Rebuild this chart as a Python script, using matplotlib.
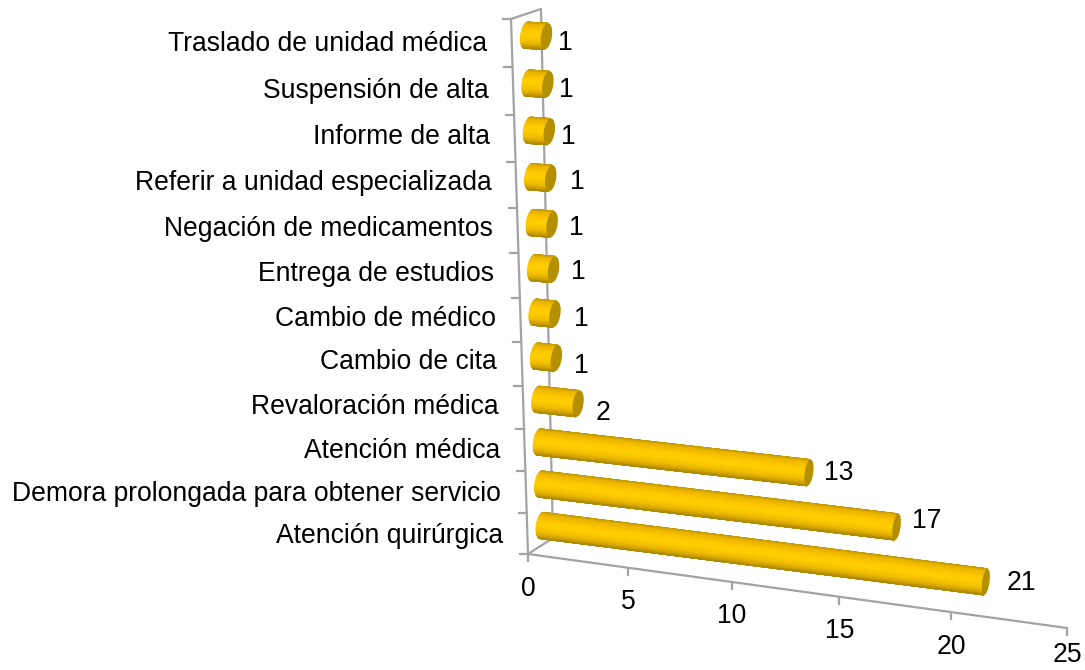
import numpy as np
from matplotlib import pyplot as plt
from matplotlib.colors import LinearSegmentedColormap

plt.rcParams['font.family'] = ['Liberation Sans', 'DejaVu Sans']

# bottom to top
categories = ['Atención quirúrgica', 'Demora prolongada para obtener servicio',
              'Atención médica', 'Revaloración médica', 'Cambio de cita',
              'Cambio de médico', 'Entrega de estudios', 'Negación de medicamentos',
              'Referir a unidad especializada', 'Informe de alta',
              'Suspensión de alta', 'Traslado de unidad médica']
values = [21, 17, 13, 2, 1, 1, 1, 1, 1, 1, 1, 1]
x_ticks = [0, 5, 10, 15, 20, 25]

# value label offsets from the bar end, the original chart is uneven here
label_dx = [36, 30, 30, 25, 25, 26, 25, 24, 27, 19, 18, 19]
label_dy = [1, -6, 0, 9, 7.7, 5, 3, 4.3, 3.4, 5.5, 5.5, 6.6]
# same for the category names
name_dy = [3, 2, 1, 0, -2, -1, -2, -2, -2, -1, 0, 1]

GRAY = '#a3a3a3'
CAP = '#b48f00'
FONT = 19.1
shade = LinearSegmentedColormap.from_list('gold', [
    (0.0, '#c29a00'), (0.08, '#eab400'), (0.3, '#ffc800'), (0.5, '#ffd000'),
    (0.75, '#f2be00'), (0.92, '#d0a200'), (1.0, '#b08c00')])


# perspective scales of the 3d box, in figure pixels
def val_off(v):
    t = v / 25.0
    return 539 * t / (1 + 0.0975 * (1 - t))


# bars sit halfway back in the box, so their scale is a little shorter
def bar_off(v):
    t = v / 25.0
    return 533.4 * t / (1 + 0.057 * (1 - t))


def cat_pt(p):
    u = p / 12.0
    f = u / (1 - 0.09 * (u - 1))
    return 528 - 17 * u, 554 - 535 * f


fig = plt.figure(figsize=(10.85, 6.7), dpi=100)
ax = fig.add_axes([0, 0, 1, 1])
ax.set_xlim(0, 1085)
ax.set_ylim(670, 0)
ax.axis('off')

# box
top_x, top_y = cat_pt(12)
ax.plot([top_x, 541, 553, 528], [top_y, 9, 538, 554], color=GRAY, lw=1.6, zorder=1)
ax.plot([528, top_x], [554, top_y], color=GRAY, lw=1.6, zorder=1)
dx = val_off(25)
ax.plot([528, 528 + dx], [554, 554 + dx * 0.1373], color=GRAY, lw=1.6, zorder=1)

for p in range(13):
    px, py = cat_pt(p)
    ax.plot([px - 8, px], [py, py], color=GRAY, lw=1.6, zorder=1)

for v in x_ticks:
    dx = val_off(v)
    dy = dx * 0.1373
    ax.plot([528 + dx, 528 + dx], [554 + dy, 554 + dy + 7], color=GRAY, lw=1.6, zorder=1)
    # the last label would run off the bottom edge
    ax.text(528 + dx, min(554 + dy + 34.5, 655), str(v), fontsize=FONT,
            ha='center', va='center', color='black')

# cylinders
theta = np.linspace(-np.pi / 2, np.pi / 2, 41)
full = np.linspace(0, 2 * np.pi, 61)
b = 13.1
lean = 1.7
for i, (name, val) in enumerate(zip(categories, values)):
    px, py = cat_pt(i + 0.5)
    sx, sy = px + 14.5, py - 8
    dx = bar_off(val)
    ex, ey = sx + dx, sy + dx * (0.127 - 0.0065 * i)
    a0 = np.clip(5.5 - (sx - 550) * 0.0046, 3.7, 5.5)
    a1 = np.clip(5.5 - (ex - 550) * 0.0046, 3.7, 5.5)
    X = np.column_stack([sx - a0 * np.cos(theta) - lean * np.sin(theta),
                         ex - a1 * np.cos(theta) - lean * np.sin(theta)])
    Y = np.column_stack([sy + b * np.sin(theta), ey + b * np.sin(theta)])
    C = np.column_stack([(np.sin(theta) + 1) / 2, (np.sin(theta) + 1) / 2])
    ax.pcolormesh(X, Y, C, cmap=shade, vmin=0, vmax=1, shading='gouraud', zorder=3)
    ax.fill(ex + a1 * np.cos(full) - lean * np.sin(full), ey + b * np.sin(full),
            color=CAP, lw=0, zorder=4)

    ax.text(ex + label_dx[i], ey + label_dy[i], str(val), fontsize=FONT,
            ha='center', va='center', color='black', zorder=5)
    ax.text(px - 24.5, py + name_dy[i], name, fontsize=FONT, ha='right', va='center', color='black')

plt.savefig('out.png', dpi=100)
